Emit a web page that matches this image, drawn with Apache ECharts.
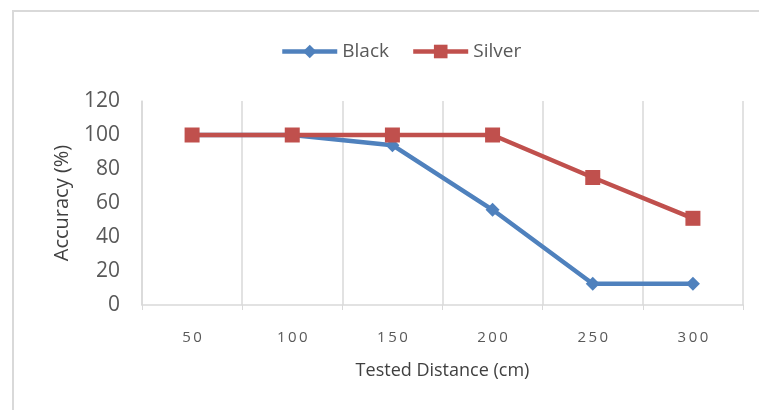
<!DOCTYPE html>
<html>
<head>
<meta charset="utf-8">
<script src="https://cdn.jsdelivr.net/npm/echarts@6/dist/echarts.min.js"></script>
<style>
  html, body { margin: 0; padding: 0; background: #fff; }
  #main { width: 759px; height: 410px; }
</style>
</head>
<body>
<div id="main"></div>
<script>
// data
var distances = ['50', '100', '150', '200', '250', '300'];
var blackAcc = [100, 100, 94, 56, 12.5, 12.5];
var silverAcc = [100, 100, 100, 100, 75, 51];

var FONT = '"Open Sans", sans-serif';
var GREY = '#595959';

var myChart = echarts.init(document.getElementById('main'));

var option = {
  backgroundColor: '#fff',
  animation: false,
  textStyle: { fontFamily: FONT },
  // chart frame (top + left edges visible in reference)
  graphic: [
    { type: 'line', shape: { x1: 12, y1: 11, x2: 759, y2: 11 }, style: { stroke: '#d9d9d9', lineWidth: 2 } },
    { type: 'line', shape: { x1: 13, y1: 10, x2: 13, y2: 410 }, style: { stroke: '#d9d9d9', lineWidth: 2 } }
  ],
  legend: {
    top: 37,
    left: 275,
    itemWidth: 55,
    itemHeight: 17,
    itemGap: 22,
    lineStyle: { width: 4.5 },
    textStyle: { fontFamily: FONT, fontSize: 19, color: GREY },
    data: ['Black', 'Silver']
  },
  grid: { left: 142, right: 16, top: 101, bottom: 105 },
  xAxis: {
    type: 'category',
    data: distances,
    boundaryGap: true,
    name: 'Tested Distance (cm)',
    nameLocation: 'middle',
    nameGap: 57,
    nameTextStyle: { fontFamily: FONT, fontSize: 18, color: '#404040' },
    axisLine: { lineStyle: { color: '#d9d9d9', width: 1.5 } },
    axisTick: { show: true, length: 5, lineStyle: { color: '#d9d9d9' } },
    splitLine: { show: true, lineStyle: { color: '#d9d9d9', width: 1.5 } },
    axisLabel: {
      margin: 25,
      fontSize: 15,
      color: GREY,
      formatter: function (v) { return v.split('').join('\u2009'); }
    }
  },
  yAxis: {
    type: 'value',
    min: 0,
    max: 120,
    interval: 20,
    name: 'Accuracy (%)',
    nameLocation: 'middle',
    nameGap: 70,
    nameTextStyle: { fontFamily: FONT, fontSize: 20, color: '#404040' },
    axisLine: { show: true, lineStyle: { color: '#d9d9d9', width: 1.5 } },
    axisTick: { show: false },
    splitLine: { show: false },
    axisLabel: { margin: 22, fontSize: 21, color: GREY }
  },
  series: [
    {
      name: 'Black',
      type: 'line',
      data: blackAcc,
      symbol: 'diamond',
      symbolSize: 14,
      itemStyle: { color: '#4f81bd' },
      lineStyle: { color: '#4f81bd', width: 4.5 }
    },
    {
      name: 'Silver',
      type: 'line',
      data: silverAcc,
      symbol: 'rect',
      symbolSize: 15,
      itemStyle: { color: '#c0504d' },
      lineStyle: { color: '#c0504d', width: 4.5 }
    }
  ]
};

myChart.setOption(option);
</script>
</body>
</html>
